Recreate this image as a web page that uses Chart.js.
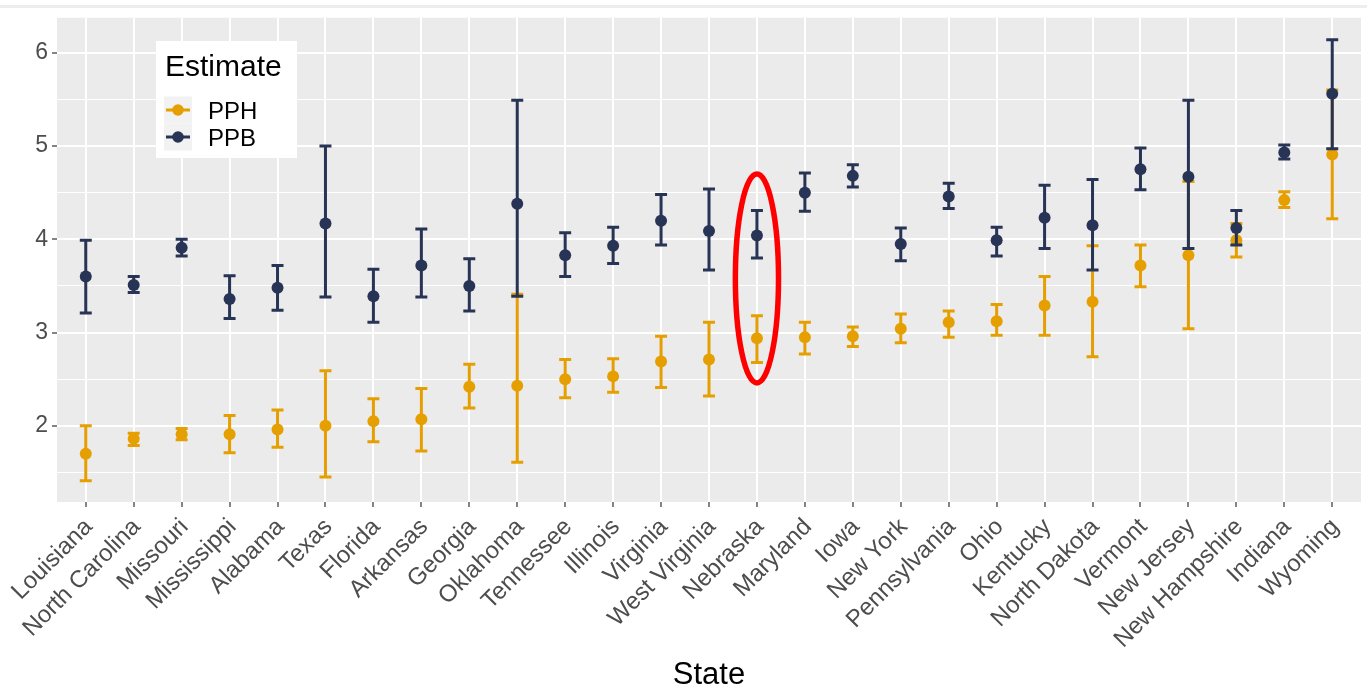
<!DOCTYPE html>
<html>
<head>
<meta charset="utf-8">
<style>
  html, body { margin: 0; padding: 0; background: #ffffff; }
  #wrap { position: relative; width: 1367px; height: 692px; overflow: hidden; }
  #c { display: block; }
  #topline { position: absolute; left: 0; top: 5px; width: 1367px; height: 3px; background: #ededed; }
</style>
<script src="https://cdn.jsdelivr.net/npm/chart.js@4.4.1/dist/chart.umd.min.js"></script>
</head>
<body>
<div id="wrap">
  <canvas id="c" width="1367" height="692"></canvas>
  <div id="topline"></div>
</div>
<script>
// ---------------- data ----------------
const states = ["Louisiana", "North Carolina", "Missouri", "Mississippi", "Alabama", "Texas",
  "Florida", "Arkansas", "Georgia", "Oklahoma", "Tennessee", "Illinois", "Virginia",
  "West Virginia", "Nebraska", "Maryland", "Iowa", "New York", "Pennsylvania", "Ohio",
  "Kentucky", "North Dakota", "Vermont", "New Jersey", "New Hampshire", "Indiana", "Wyoming"];

const pphEst  = [1.70, 1.86, 1.91, 1.91, 1.96, 2.00, 2.05, 2.07, 2.42, 2.43, 2.50, 2.53, 2.69, 2.71,
                 2.94, 2.95, 2.96, 3.04, 3.11, 3.12, 3.29, 3.33, 3.72, 3.83, 3.99, 4.42, 4.91];
const pphLow  = [1.41, 1.79, 1.85, 1.71, 1.77, 1.45, 1.83, 1.73, 2.19, 1.61, 2.30, 2.36, 2.41, 2.32,
                 2.68, 2.77, 2.85, 2.89, 2.95, 2.97, 2.97, 2.74, 3.49, 3.04, 3.81, 4.34, 4.22];
const pphHigh = [2.00, 1.92, 1.97, 2.11, 2.17, 2.59, 2.29, 2.40, 2.66, 3.41, 2.71, 2.72, 2.96, 3.11,
                 3.18, 3.11, 3.06, 3.20, 3.23, 3.30, 3.60, 3.93, 3.94, 4.62, 4.17, 4.51, 5.60];

const ppbEst  = [3.60, 3.51, 3.91, 3.36, 3.48, 4.17, 3.39, 3.72, 3.50, 4.38, 3.83, 3.93, 4.20, 4.09,
                 4.04, 4.50, 4.68, 3.95, 4.46, 3.99, 4.23, 4.15, 4.75, 4.67, 4.12, 4.93, 5.56];
const ppbLow  = [3.21, 3.43, 3.82, 3.15, 3.24, 3.38, 3.11, 3.38, 3.23, 3.39, 3.60, 3.74, 3.94, 3.67,
                 3.80, 4.30, 4.56, 3.77, 4.33, 3.82, 3.90, 3.67, 4.53, 3.90, 3.94, 4.86, 4.97];
const ppbHigh = [3.99, 3.60, 4.00, 3.61, 3.72, 5.00, 3.68, 4.11, 3.79, 5.49, 4.07, 4.13, 4.48, 4.54,
                 4.31, 4.71, 4.80, 4.12, 4.60, 4.13, 4.58, 4.64, 4.98, 5.49, 4.31, 5.01, 6.14];

const seriesNames = ["PPH", "PPB"];
const yMajorTicks = [2, 3, 4, 5, 6];
const yMinorTicks = [1.5, 2.5, 3.5, 4.5, 5.5];
const xAxisTitle = "State";
const legendTitle = "Estimate";

// highlighted state (red ellipse), in data units
const highlightState = "Nebraska";
const highlightTop = 4.70;
const highlightBottom = 2.46;

// ---------------- styles ----------------
const FONT = "'Liberation Sans', Arial, 'DejaVu Sans', sans-serif";
const COL_PPH = "#E69F00";
const COL_PPB = "#283455";
const PANEL = "#EBEBEB";

const panelBg = {
  id: "panelBg",
  beforeDraw(chart) {
    const { ctx, chartArea: a } = chart;
    ctx.save();
    ctx.fillStyle = PANEL;
    ctx.fillRect(a.left, a.top, a.right - a.left, a.bottom - a.top);
    ctx.restore();
  }
};

const errorBars = {
  id: "errorBars",
  beforeDatasetDraw(chart, args) {
    const ds = chart.data.datasets[args.index];
    const xs = chart.scales.x, ys = chart.scales.y;
    const ctx = chart.ctx;
    ctx.save();
    ctx.strokeStyle = ds.borderColor;
    ctx.lineWidth = 3;
    ctx.lineCap = "butt";
    args.meta.data.forEach((pt, i) => {
      const x = xs.getPixelForValue(i);
      const hw = xs.getPixelForValue(i + 0.125) - x;
      const y1 = ys.getPixelForValue(ds.errLow[i]);
      const y2 = ys.getPixelForValue(ds.errHigh[i]);
      ctx.beginPath();
      ctx.moveTo(x, y1); ctx.lineTo(x, y2);
      ctx.moveTo(x - hw, y1); ctx.lineTo(x + hw, y1);
      ctx.moveTo(x - hw, y2); ctx.lineTo(x + hw, y2);
      ctx.stroke();
    });
    ctx.restore();
  }
};

const highlight = {
  id: "highlight",
  afterDatasetsDraw(chart) {
    const xs = chart.scales.x, ys = chart.scales.y;
    const ctx = chart.ctx;
    const i = states.indexOf(highlightState);
    const cx = xs.getPixelForValue(i);
    const rx = xs.getPixelForValue(i + 0.45) - cx;
    const yT = ys.getPixelForValue(highlightTop);
    const yB = ys.getPixelForValue(highlightBottom);
    ctx.save();
    ctx.strokeStyle = "#FF0000";
    ctx.lineWidth = 5.5;
    ctx.beginPath();
    ctx.ellipse(cx, (yT + yB) / 2, rx, (yB - yT) / 2, 0, 0, Math.PI * 2);
    ctx.stroke();
    ctx.restore();
  }
};

const ggLegend = {
  id: "ggLegend",
  afterDraw(chart) {
    const ctx = chart.ctx;
    const ds = chart.data.datasets;
    ctx.save();
    ctx.fillStyle = "#ffffff";
    ctx.fillRect(156, 41, 141, 117);
    ctx.fillStyle = "#000000";
    ctx.font = "30px " + FONT;
    ctx.textBaseline = "alphabetic";
    ctx.textAlign = "left";
    ctx.fillText(legendTitle, 165, 76);
    const rows = [110, 137];
    seriesNames.forEach((name, k) => {
      const d = ds.find(s => s.label === name);
      const cy = rows[k];
      ctx.fillStyle = "#F2F2F2";
      ctx.fillRect(164, cy - 13.5, 28, 27);
      ctx.strokeStyle = d.borderColor;
      ctx.lineWidth = 3;
      ctx.beginPath();
      ctx.moveTo(166, cy); ctx.lineTo(190, cy);
      ctx.stroke();
      ctx.fillStyle = d.backgroundColor;
      ctx.beginPath();
      ctx.arc(178, cy, 5.8, 0, Math.PI * 2);
      ctx.fill();
      ctx.fillStyle = "#000000";
      ctx.font = "24px " + FONT;
      ctx.fillText(name, 208, cy + 8.5);
    });
    ctx.restore();
  }
};

const mkData = (est) => states.map((s, i) => ({ x: i, y: est[i] }));

new Chart(document.getElementById("c"), {
  type: "scatter",
  data: {
    datasets: [
      { label: seriesNames[0], data: mkData(pphEst), errLow: pphLow, errHigh: pphHigh,
        borderColor: COL_PPH, backgroundColor: COL_PPH, pointRadius: 6, pointBorderWidth: 0,
        pointHoverRadius: 6, order: 1 },
      { label: seriesNames[1], data: mkData(ppbEst), errLow: ppbLow, errHigh: ppbHigh,
        borderColor: COL_PPB, backgroundColor: COL_PPB, pointRadius: 6, pointBorderWidth: 0,
        pointHoverRadius: 6, order: 0 }
    ]
  },
  options: {
    responsive: false,
    animation: false,
    devicePixelRatio: 1,
    layout: { padding: { top: 17, right: 5, left: 0, bottom: 0 } },
    plugins: { legend: { display: false }, tooltip: { enabled: false } },
    scales: {
      x: {
        type: "linear",
        min: -0.6,
        max: 26.6,
        afterBuildTicks: (ax) => { ax.ticks = states.map((s, i) => ({ value: i })); },
        afterFit: (s) => { s.height = 190; },
        border: { display: false },
        grid: { color: "#ffffff", lineWidth: 2, tickColor: "#333333", tickWidth: 1.2, tickLength: 5 },
        ticks: {
          autoSkip: false, minRotation: 45, maxRotation: 45,
          padding: 6, labelOffset: 3,
          color: "#4D4D4D",
          font: { family: FONT, size: 24 },
          callback: (v) => states[v]
        },
        title: {
          display: true, text: xAxisTitle, color: "#000000",
          font: { family: FONT, size: 31, lineHeight: 1.0 },
          padding: { top: 0, bottom: 1.5 }
        }
      },
      y: {
        type: "linear",
        min: 1.183,
        max: 6.375,
        afterBuildTicks: (ax) => {
          ax.ticks = yMinorTicks.concat(yMajorTicks).sort((a, b) => a - b).map(v => ({ value: v }));
        },
        afterFit: (s) => { s.width = 57; },
        border: { display: false },
        grid: {
          color: "#ffffff",
          lineWidth: (c) => (yMajorTicks.includes(c.tick && c.tick.value) ? 2 : 1),
          tickColor: (c) => (yMajorTicks.includes(c.tick && c.tick.value) ? "#333333" : "rgba(0,0,0,0)"),
          tickWidth: 1.2,
          tickLength: 5
        },
        ticks: {
          padding: 4,
          color: "#4D4D4D",
          font: { family: FONT, size: 23 },
          callback: (v) => (yMajorTicks.includes(v) ? String(v) : "")
        }
      }
    }
  },
  plugins: [panelBg, errorBars, highlight, ggLegend]
});
</script>
</body>
</html>
